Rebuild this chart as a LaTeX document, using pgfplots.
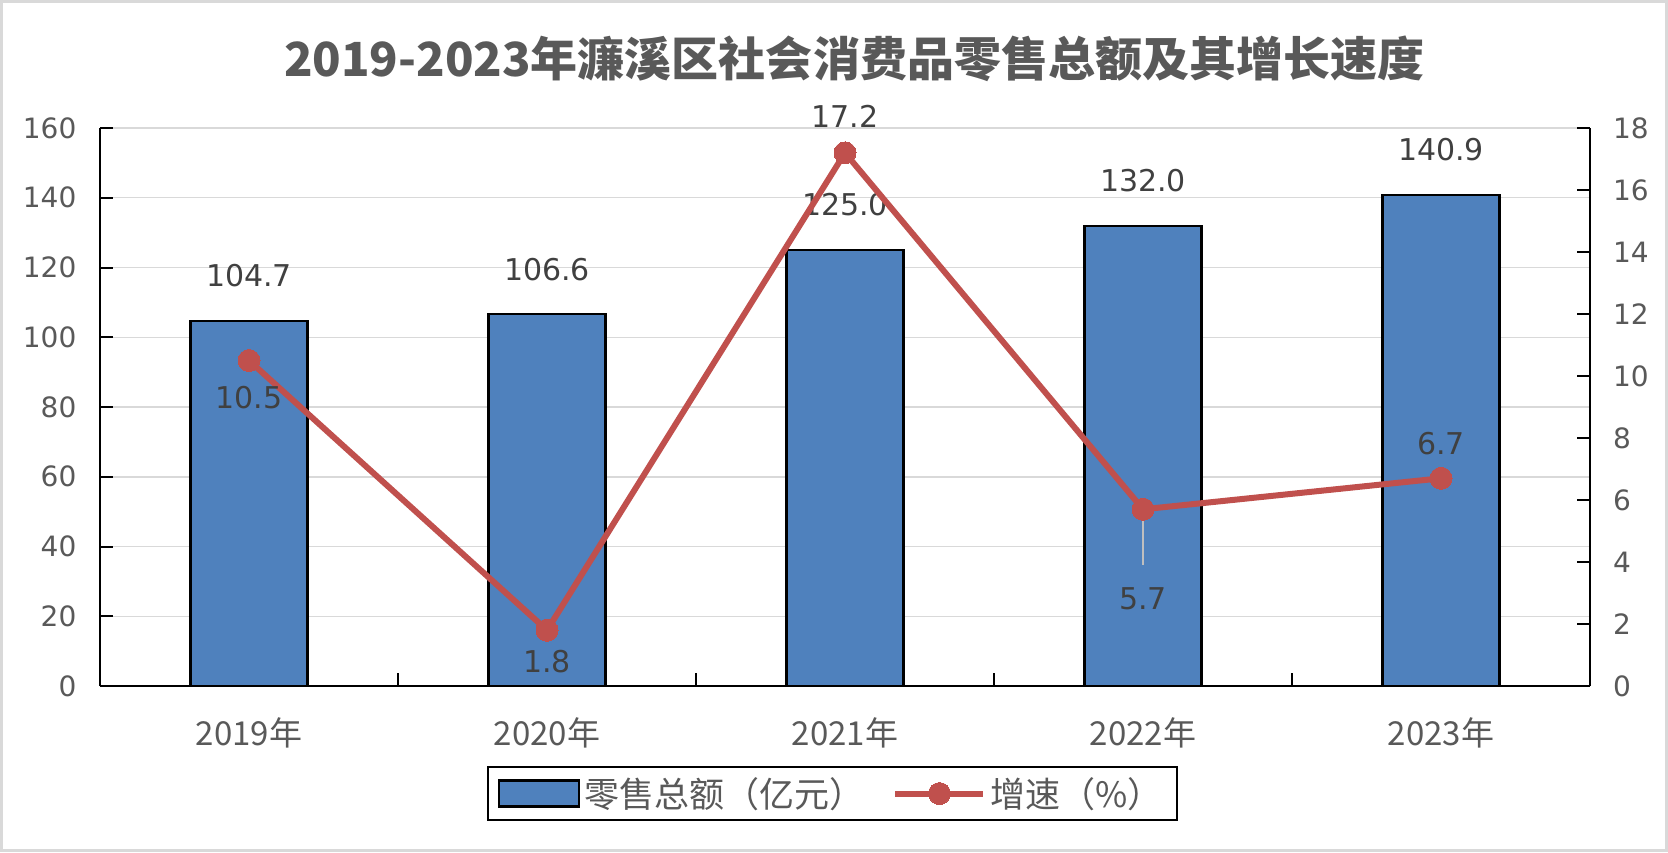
\documentclass[border=0pt]{standalone}
\usepackage{fontspec}
\usepackage{pgfplots}
\pgfplotsset{compat=1.18}
\usepackage{pgfplotstable}
\setmainfont{Noto Sans CJK SC}
\newfontfamily\numfont{DejaVu Sans}
\definecolor{barblue}{HTML}{4F81BD}
\definecolor{linered}{HTML}{C0504D}
\definecolor{gridgray}{HTML}{D9D9D9}
\definecolor{tickgray}{HTML}{595959}
\definecolor{labelgray}{HTML}{404040}

\pgfplotsset{linelegend/.style={legend image code/.code={\draw[##1, mark repeat=2, mark phase=2] plot coordinates {(0pt,0pt) (22pt,0pt) (44pt,0pt)};}}}

\pgfplotstableread{
x y
0 104.7
1 106.6
2 125.0
3 132.0
4 140.9
}\sales
\pgfplotstableread{
x y dy
0 10.5 -18.5
1 1.8 -15.5
2 17.2 18
3 5.7 -44.5
4 6.7 17.5
}\growth

\begin{document}
\begin{tikzpicture}
\useasboundingbox (0,0) rectangle (834pt,426pt);
\draw[gridgray, line width=1.5pt] (0.75pt,0.75pt) rectangle (833.25pt,425.25pt);
\node[font=\fontsize{23.5}{28}\selectfont\bfseries, text=tickgray] at (427pt,396.5pt) {2019-2023年濂溪区社会消费品零售总额及其增长速度};

\pgfplotsset{common/.style={
  at={(50pt,83pt)}, anchor=south west, scale only axis, width=745pt, height=279pt,
  xmin=-0.5, xmax=4.5, clip=false,
  axis line style={-, black, line width=1pt},
  tick align=inside, major tick length=6.5pt,
  /pgf/number format/assume math mode=true,
  every tick/.style={black, line width=1pt},
}}

\begin{axis}[common,
  axis x line*=bottom, axis y line*=left,
  ymin=0, ymax=160, ytick={0,20,...,160},
  ymajorgrids, grid style={gridgray, line width=0.75pt},
  xtick={0,1,2,3,4},
  xticklabels={2019年,2020年,2021年,2022年,2023年},
  every major x tick/.append style={draw=none},
  minor xtick={0.5,1.5,2.5,3.5},
  minor tick length=6.5pt,
  every minor x tick/.append style={black, line width=1pt},
  xticklabel style={font=\fontsize{16.5}{20}\selectfont, text=tickgray, anchor=center, yshift=-23.5pt},
  yticklabel style={font=\numfont\fontsize{14}{16}\selectfont, text=tickgray, xshift=-8.3pt},
]
\addplot[ybar, bar width=58.5pt, fill=barblue, draw=black, line width=1.1pt,
  nodes near coords={\pgfmathprintnumber[fixed,fixed zerofill,precision=1]{\pgfplotspointmeta}},
  every node near coord/.append style={font=\numfont\fontsize{15}{18}\selectfont, text=labelgray, anchor=center, yshift=22.5pt}]
  table[x=x,y=y]{\sales};
\end{axis}

\begin{axis}[common,
  axis x line=none, axis y line*=right,
  ymin=0, ymax=18, ytick={0,2,...,18},
  yticklabel style={font=\numfont\fontsize{14}{16}\selectfont, text=tickgray, xshift=8pt},
  legend columns=2,
  legend style={at={(axis description cs:0.4916,-0.1927)}, anchor=center, draw=black, line width=1pt,
    font=\fontsize{17.5}{21}\selectfont, text=tickgray, inner xsep=5pt, inner ysep=3pt,
    /tikz/every even column/.append style={column sep=12pt}},
  legend cell align=left,
]
\addlegendimage{legend image code/.code={\draw[fill=barblue, draw=black, line width=1.1pt] (0pt,-6.5pt) rectangle (40pt,6.5pt);}}
\addlegendentry{零售总额（亿元）}
\addplot[linered, line width=3pt, mark=*, mark size=5.5pt, mark options={fill=linered, draw=linered, line width=0pt},
  visualization depends on={\thisrow{dy} \as \dy},
  nodes near coords={\pgfmathprintnumber[fixed,precision=1]{\pgfplotspointmeta}},
  every node near coord/.append style={font=\numfont\fontsize{15}{18}\selectfont, text=labelgray, anchor=center, yshift=\dy*1pt},
  linelegend
] table[x=x,y=y]{\growth};
\addlegendentry{增速（\%）}
\draw[gray!50, line width=0.6pt] (axis cs:3,5.5) -- (axis cs:3,3.9);
\end{axis}
\end{tikzpicture}
\end{document}
